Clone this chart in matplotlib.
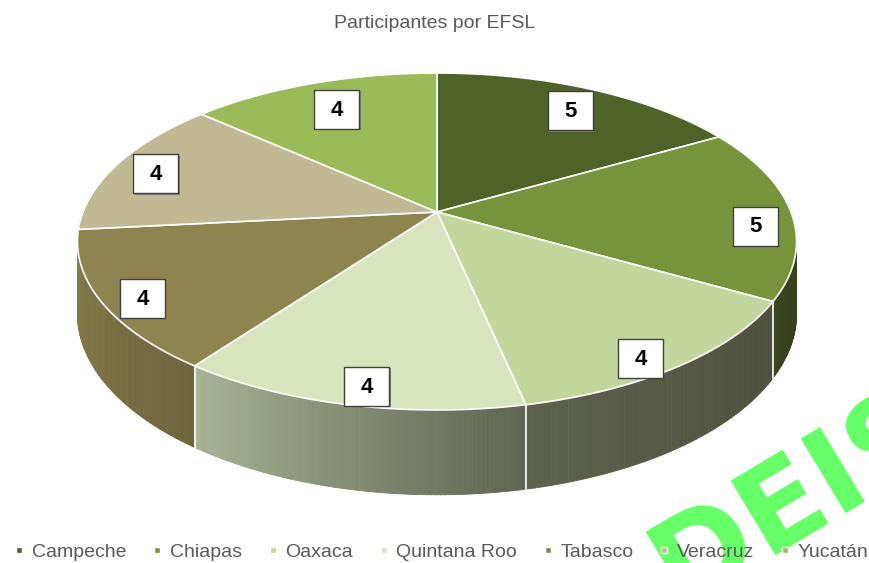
import numpy as np
import matplotlib

matplotlib.use("Agg")
import matplotlib.pyplot as plt
from matplotlib.collections import PolyCollection
from matplotlib.lines import Line2D
from matplotlib.patches import Rectangle
from matplotlib.colors import to_rgb

# region Data

states = ["Campeche", "Chiapas", "Oaxaca", "Quintana Roo", "Tabasco", "Veracruz", "Yucatán"]
participants = [5, 5, 4, 4, 4, 4, 4]
title = "Participantes por EFSL"

# endregion

plt.rcParams["font.family"] = ["Liberation Sans", "DejaVu Sans"]

top_colors = ["#4F6228", "#77933C", "#C3D69B", "#D7E4BD", "#8E8450", "#C0B994", "#9BBB59"]
# side shading, (left, right) on screen
side_colors = [
    ("#3B4A1E", "#2F3B16"),
    ("#3A4520", "#29330F"),
    ("#5D624C", "#4D503C"),
    ("#A9B497", "#5F6550"),
    ("#877D4C", "#6E653D"),
    ("#877D4C", "#877D4C"),
    ("#7A9645", "#6A8438"),
]
text_gray = "#595959"

# pseudo 3D projection, pixel coordinates
cx, cy = 437, 212
rx, ry = 354, 163.3
persp = 0.175
depth = 70


def project(theta, r=1.0, dz=0.0):
    t = np.radians(theta)
    u = r * np.sin(t)
    v = -r * np.cos(t)
    den = 1 - persp * v
    return cx + rx * u / den, cy + ry * v / den + dz / den


fig = plt.figure(figsize=(8.69, 5.63), dpi=100)
ax = fig.add_axes([0, 0, 1, 1])
ax.set_xlim(0, 869)
ax.set_ylim(563, 0)
ax.axis("off")

vals = np.array(participants, dtype=float)
bounds = np.concatenate([[0], np.cumsum(vals) / vals.sum() * 360])

# sides (front half only), back segments first
segments = []
for i in range(len(vals)):
    a0 = max(bounds[i], 80)
    a1 = min(bounds[i + 1], 280)
    if a1 > a0:
        segments.append((abs((a0 + a1) / 2 - 180), i, a0, a1))
segments.sort(reverse=True)

for _, i, a0, a1 in segments:
    angs = np.linspace(a0, a1, 80)
    left, right = np.array(to_rgb(side_colors[i][0])), np.array(to_rgb(side_colors[i][1]))
    quads, cols = [], []
    for k in range(len(angs) - 1):
        xa, ya = project(angs[k])
        xb, yb = project(angs[k + 1])
        xa2, ya2 = project(angs[k], dz=depth)
        xb2, yb2 = project(angs[k + 1], dz=depth)
        quads.append([(xa, ya), (xb, yb), (xb2, yb2), (xa2, ya2)])
        frac = (angs[k] - bounds[i]) / (bounds[i + 1] - bounds[i])
        cols.append(right + (left - right) * frac)
    ax.add_collection(PolyCollection(quads, facecolors=cols, edgecolors=cols, linewidths=0.6))

for b in bounds:
    if 100 < b < 260:
        x0, y0 = project(b)
        x1, y1 = project(b, dz=depth)
        ax.plot([x0, x1], [y0, y1], color="white", lw=1.2)

# top faces
for i in range(len(vals)):
    angs = np.linspace(bounds[i], bounds[i + 1], 120)
    xs, ys = project(angs)
    verts = [(cx, cy)] + list(zip(xs, ys))
    ax.add_patch(plt.Polygon(verts, closed=True, facecolor=top_colors[i],
                             edgecolor="white", lw=1.2, joinstyle="round"))

# data labels
box_w, box_h = 45, 39
for i in range(len(vals)):
    mid = (bounds[i] + bounds[i + 1]) / 2
    u = np.sin(np.radians(mid))
    v = -np.cos(np.radians(mid))
    r = 0.8 + 0.1 * abs(u) - (0.065 * max(-v, 0) if u < 0 else 0)
    lx, ly = project(mid, r=r)
    ly += 10 + 4 * u + 2 * v + 12 * max(v, 0) ** 6 + 6 * min(v, 0)
    ax.add_patch(Rectangle((lx - box_w / 2 + 1.5, ly - box_h / 2 + 1.5), box_w, box_h,
                           facecolor="#7F7F7F", edgecolor="none", zorder=3))
    ax.add_patch(Rectangle((lx - box_w / 2, ly - box_h / 2), box_w, box_h,
                           facecolor="white", edgecolor="#404040", lw=1.0, zorder=3))
    ax.text(lx, ly + 1, f"{participants[i]}", ha="center", va="center",
            fontsize=16, fontweight="bold", color="black", zorder=4)

ax.text(435, 23, title, ha="center", va="center", fontsize=14, color=text_gray)

# watermark
ax.text(680, 606, "DEIS", rotation=31, rotation_mode="anchor", ha="left",
        va="baseline", fontsize=86, fontweight="bold", color="#66FF66",
        family="DejaVu Sans", zorder=5)

handles = [Line2D([], [], linestyle="None", marker="s", markersize=5,
                  markerfacecolor=c, markeredgecolor="white", markeredgewidth=1.0)
           for c in top_colors]
leg = fig.legend(handles, states, loc="center", bbox_to_anchor=(441 / 869, 1 - 552 / 563),
                 ncol=7, frameon=False, fontsize=14, handlelength=0.6,
                 handletextpad=0.35, columnspacing=1.28, borderpad=0)
for t in leg.get_texts():
    t.set_color(text_gray)

fig.savefig("out.png", dpi=100)
